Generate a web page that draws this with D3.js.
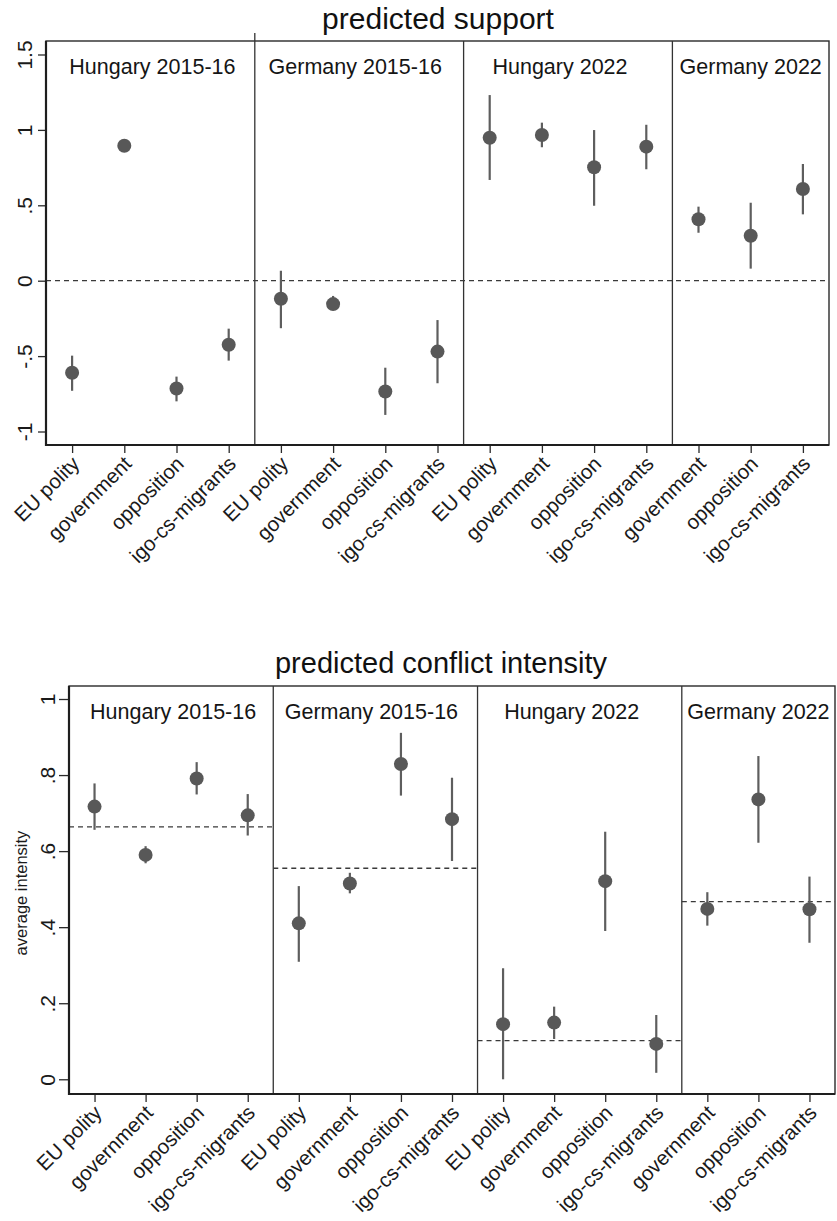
<!DOCTYPE html>
<html>
<head>
<meta charset="utf-8">
<script src="https://cdn.jsdelivr.net/npm/d3@7"></script>
<style>
  body { margin: 0; background: #fff; }
  svg { display: block; font-family: "Liberation Sans", Arial, sans-serif; }
</style>
</head>
<body>
<div class="chart"></div>
<script>
var svgWidth = 837;
var svgHeight = 1221;

// groups and the actors shown in each
var groups = ["Hungary 2015-16", "Germany 2015-16", "Hungary 2022", "Germany 2022"];
var groupSizes = [4, 4, 4, 3];
var tickLabels = [
  "EU polity", "government", "opposition", "igo-cs-migrants",
  "EU polity", "government", "opposition", "igo-cs-migrants",
  "EU polity", "government", "opposition", "igo-cs-migrants",
  "government", "opposition", "igo-cs-migrants"
];

// predicted support (estimate, lower and upper bound)
var supportEst = [-0.61, 0.895, -0.715, -0.425, -0.12, -0.155, -0.735, -0.47, 0.948, 0.966, 0.752, 0.889, 0.407, 0.298, 0.608];
var supportLo = [-0.73, 0.875, -0.80, -0.53, -0.315, -0.195, -0.89, -0.68, 0.668, 0.885, 0.497, 0.739, 0.318, 0.080, 0.440];
var supportHi = [-0.497, 0.915, -0.636, -0.318, 0.066, -0.101, -0.577, -0.261, 1.231, 1.048, 0.999, 1.034, 0.491, 0.517, 0.774];
var supportTicks = [-1, -0.5, 0, 0.5, 1, 1.5];

// predicted conflict intensity
var conflictEst = [0.717, 0.590, 0.791, 0.694, 0.410, 0.515, 0.829, 0.684, 0.145, 0.149, 0.521, 0.093, 0.448, 0.736, 0.447];
var conflictLo = [0.656, 0.568, 0.749, 0.641, 0.309, 0.489, 0.746, 0.574, 0.0, 0.106, 0.390, 0.017, 0.404, 0.622, 0.359];
var conflictHi = [0.778, 0.613, 0.834, 0.750, 0.508, 0.543, 0.911, 0.793, 0.292, 0.191, 0.651, 0.169, 0.492, 0.850, 0.533];
var conflictAvg = [0.664, 0.555, 0.1015, 0.467];
var conflictTicks = [0, 0.2, 0.4, 0.6, 0.8, 1];

var svg = d3.select(".chart").append("svg")
  .attr("width", svgWidth)
  .attr("height", svgHeight);

// group start/end positions (1-based tick index)
var groupBounds = [];
var start = 1;
groupSizes.forEach(function(n) {
  groupBounds.push([start - 0.5, start + n - 0.5]);
  start += n;
});

// small nudges of the group labels (pixels)
var labelNudge = [2, -4, -8, 0];

function fmt(d) {
  if (d === 0) return "0";
  return String(d).replace(/^(-?)0\./, "$1.");
}

function drawPanel(opt) {
  var x = d3.scaleLinear().domain([0.5, tickLabels.length + 0.5]).range([opt.left, opt.right]);
  var y = d3.scaleLinear().domain(opt.yDomain).range([opt.bottom, opt.top]);
  var g = svg.append("g");

  // title
  g.append("text")
    .attr("x", opt.titleX)
    .attr("y", opt.titleY)
    .attr("text-anchor", "middle")
    .attr("font-size", opt.titleSize)
    .attr("fill", "#111")
    .text(opt.title);

  // frame
  g.append("rect")
    .attr("x", opt.left).attr("y", opt.top)
    .attr("width", opt.right - opt.left)
    .attr("height", opt.bottom - opt.top)
    .attr("fill", "none")
    .attr("stroke", "#2a2a2a")
    .attr("stroke-width", 1.4);

  // group dividers
  groupBounds.slice(1).forEach(function(b, i) {
    g.append("line")
      .attr("x1", x(b[0])).attr("x2", x(b[0]))
      .attr("y1", (i === 0 && opt.extendFirst) ? opt.top - 8 : opt.top)
      .attr("y2", opt.bottom)
      .attr("stroke", "#333")
      .attr("stroke-width", 1.3);
  });

  // reference lines
  opt.refs.forEach(function(r) {
    g.append("line")
      .attr("x1", x(r.from)).attr("x2", x(r.to))
      .attr("y1", y(r.value)).attr("y2", y(r.value))
      .attr("stroke", "#3a3a3a")
      .attr("stroke-width", 1.3)
      .attr("stroke-dasharray", "5,4");
  });

  // group labels
  g.selectAll(".grp")
    .data(groups)
    .enter()
    .append("text")
    .attr("x", function(d, i) { return x((groupBounds[i][0] + groupBounds[i][1]) / 2) + labelNudge[i]; })
    .attr("y", opt.top + 33)
    .attr("text-anchor", "middle")
    .attr("font-size", 21.5)
    .attr("fill", "#151515")
    .text(function(d) { return d; });

  // confidence intervals
  g.selectAll(".ci")
    .data(opt.est)
    .enter()
    .append("line")
    .attr("x1", function(d, i) { return x(i + 1); })
    .attr("x2", function(d, i) { return x(i + 1); })
    .attr("y1", function(d, i) { return y(opt.lo[i]); })
    .attr("y2", function(d, i) { return y(opt.hi[i]); })
    .attr("stroke", "#5e5e5e")
    .attr("stroke-width", 2.2);

  // point estimates
  g.selectAll(".pt")
    .data(opt.est)
    .enter()
    .append("circle")
    .attr("cx", function(d, i) { return x(i + 1); })
    .attr("cy", function(d) { return y(d); })
    .attr("r", 7)
    .attr("fill", "#585858");

  // y axis
  var gy = g.append("g")
    .attr("transform", "translate(" + opt.left + ",0)")
    .call(d3.axisLeft(y).tickValues(opt.ticks).tickSize(opt.tickLen).tickFormat(fmt));
  gy.select(".domain").remove();
  gy.selectAll("line").attr("stroke", "#2a2a2a").attr("stroke-width", 1.3);
  gy.selectAll("text")
    .attr("x", null).attr("dy", null)
    .attr("text-anchor", "middle")
    .attr("transform", "translate(-14,0) rotate(-90)")
    .attr("font-size", 21)
    .attr("font-family", null)
    .attr("fill", "#1a1a1a");

  // x axis
  var gx = g.append("g")
    .attr("transform", "translate(0," + opt.bottom + ")")
    .call(d3.axisBottom(x).tickValues(d3.range(1, tickLabels.length + 1)).tickSize(8)
      .tickFormat(function(d) { return tickLabels[d - 1]; }));
  gx.select(".domain").remove();
  gx.selectAll("line").attr("stroke", "#2a2a2a").attr("stroke-width", 1.3);
  gx.selectAll("text")
    .attr("y", null).attr("dy", ".35em")
    .attr("text-anchor", "end")
    .attr("transform", "translate(3,15) rotate(-45)")
    .attr("font-size", 20.5)
    .attr("font-family", null)
    .attr("fill", "#1a1a1a");

  // axis lines (heavier left and bottom)
  g.append("line")
    .attr("x1", opt.left).attr("x2", opt.left)
    .attr("y1", opt.top).attr("y2", opt.bottom + 1)
    .attr("stroke", "#1e1e1e").attr("stroke-width", 2.2);
  g.append("line")
    .attr("x1", opt.left - 1).attr("x2", opt.right)
    .attr("y1", opt.bottom).attr("y2", opt.bottom)
    .attr("stroke", "#1e1e1e").attr("stroke-width", 2.2);

  if (opt.yTitle) {
    g.append("text")
      .attr("transform", "translate(27," + ((opt.top + opt.bottom) / 2 + 3) + ") rotate(-90)")
      .attr("text-anchor", "middle")
      .attr("font-size", 16.5)
      .attr("fill", "#1a1a1a")
      .text(opt.yTitle);
  }
}

drawPanel({
  title: "predicted support", titleX: 438, titleY: 29, titleSize: 30,
  left: 46, right: 829, top: 41, bottom: 445,
  yDomain: [-1.0895, 1.5895], ticks: supportTicks, tickLen: 8,
  est: supportEst, lo: supportLo, hi: supportHi,
  refs: [{ from: 0.5, to: tickLabels.length + 0.5, value: 0 }],
  extendFirst: true
});

drawPanel({
  title: "predicted conflict intensity", titleX: 441, titleY: 673, titleSize: 29,
  left: 69, right: 835, top: 686, bottom: 1094,
  yDomain: [-0.0387, 1.0342], ticks: conflictTicks, tickLen: 10,
  est: conflictEst, lo: conflictLo, hi: conflictHi,
  refs: conflictAvg.map(function(v, i) {
    return { from: groupBounds[i][0], to: groupBounds[i][1], value: v };
  }),
  yTitle: "average intensity"
});
</script>
</body>
</html>
